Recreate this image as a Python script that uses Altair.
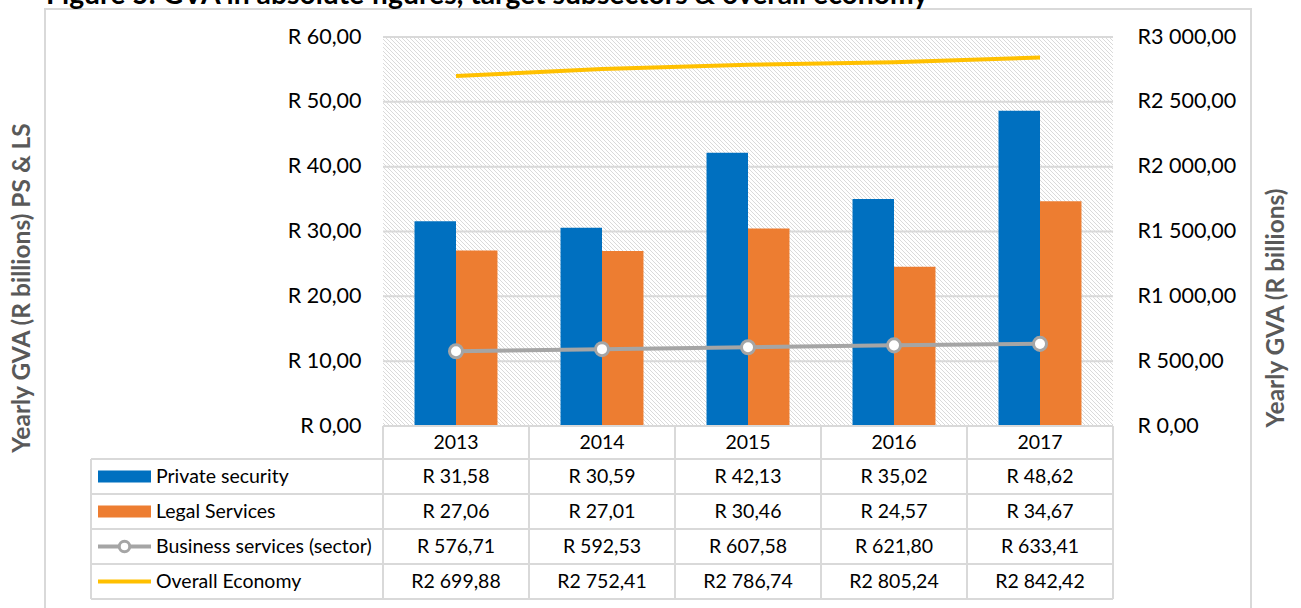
import altair as alt
import pandas as pd

# ---- data -------------------------------------------------------------
years = ["2013", "2014", "2015", "2016", "2017"]
private_security = [31.58, 30.59, 42.13, 35.02, 48.62]
legal_services = [27.06, 27.01, 30.46, 24.57, 34.67]
business_services = [576.71, 592.53, 607.58, 621.80, 633.41]
overall_economy = [2699.88, 2752.41, 2786.74, 2805.24, 2842.42]
series_names = ["Private security", "Legal Services",
                "Business services (sector)", "Overall Economy"]
left_ticks = [0, 10, 20, 30, 40, 50, 60]
right_ticks = [0, 500, 1000, 1500, 2000, 2500, 3000]
title_text = "Figure 5: GVA in absolute figures, target subsectors & overall economy"
left_title = "Yearly GVA (R billions) PS & LS"
right_title = "Yearly GVA (R billions)"

# ---- style ------------------------------------------------------------
BLUE, ORANGE, GREY, GOLD = "#0070C0", "#ED7D31", "#A5A5A5", "#FFC000"
RULE = "#D9D9D9"
FONT = "Lato"
FS = 19.5        # table text
AFS = 21.5       # axis labels
W, H = 730, 389          # plot area in pixels
PAD_L, PAD_T = 383, 37   # plot area offset inside the page


def rand(v):
    s = f"{v:,.2f}".replace(",", " ").replace(".", ",")
    return ("R" if v >= 1000 else "R ") + s


X = alt.X("year:N", scale=alt.Scale(domain=years, paddingInner=0, paddingOuter=0), axis=None)

# ---- frame + hatched plot background ---------------------------------
one = pd.DataFrame({"k": [0]})
frame = alt.Chart(one).mark_rect(fill="transparent", stroke=RULE, strokeWidth=2).encode(
    x=alt.value(45 - PAD_L), x2=alt.value(1251 - PAD_L),
    y=alt.value(9 - PAD_T), y2=alt.value(640 - PAD_T))

hatch_rows = []
for c in range(-W, H, 4):
    xa, xb = max(0, -c), min(W, H - c)
    hatch_rows.append({"hx": xa, "hy": xa + c, "hx2": xb, "hy2": xb + c})
hatch = alt.Chart(pd.DataFrame(hatch_rows)).mark_rule(color="#DADADA", strokeWidth=1).encode(
    x=alt.X("hx:Q", scale=None, axis=None), x2="hx2:Q",
    y=alt.Y("hy:Q", scale=None, axis=None), y2="hy2:Q")

grid = alt.Chart(pd.DataFrame({"v": left_ticks[1:]})).mark_rule(color=RULE, strokeWidth=2).encode(
    x=alt.value(0), x2=alt.value(W),
    y=alt.Y("v:Q", scale=alt.Scale(domain=[0, 60], nice=False), axis=None))

# ---- bars (left axis) -------------------------------------------------
bar_df = pd.DataFrame({
    "year": years * 2,
    "series": [series_names[0]] * 5 + [series_names[1]] * 5,
    "value": private_security + legal_services,
})
bars = alt.Chart(bar_df).mark_bar().encode(
    x=X,
    xOffset=alt.XOffset("series:N", scale=alt.Scale(domain=series_names[:2],
                                                     paddingInner=0, paddingOuter=0.76)),
    y=alt.Y("value:Q", scale=alt.Scale(domain=[0, 60], nice=False),
            axis=alt.Axis(orient="left", values=left_ticks, title=None, grid=False,
                          domain=False, ticks=False, labelPadding=22, zindex=2,
                          labelFont=FONT, labelFontSize=AFS, labelColor="#000000",
                          labelExpr="'R ' + replace(format(datum.value, '.2f'), '.', ',')")),
    color=alt.Color("series:N", scale=alt.Scale(domain=series_names[:2], range=[BLUE, ORANGE]),
                    legend=None),
)

# ---- lines (right axis) ----------------------------------------------
right_axis = alt.Axis(orient="right", values=right_ticks, title=None, grid=False,
                      domain=False, ticks=False, labelPadding=24, zindex=2,
                      labelFont=FONT, labelFontSize=AFS, labelColor="#000000",
                      labelExpr="(datum.value >= 1000 ? 'R' : 'R ') + "
                                "replace(replace(format(datum.value, ',.2f'), ',', ' '), '.', ',')")
RY = alt.Scale(domain=[0, 3000], nice=False)

econ_df = pd.DataFrame({"year": years, "value": overall_economy})
econ = alt.Chart(econ_df).mark_line(color=GOLD, strokeWidth=4).encode(
    x=X, y=alt.Y("value:Q", scale=RY, axis=right_axis))

bus_df = pd.DataFrame({"year": years, "value": business_services})
bus_line = alt.Chart(bus_df).mark_line(color=GREY, strokeWidth=4).encode(
    x=X, y=alt.Y("value:Q", scale=RY, axis=None))
bus_pts = alt.Chart(bus_df).mark_point(shape="circle", filled=True, fill="white",
                                       stroke=GREY, strokeWidth=3, size=170, opacity=1).encode(
    x=X, y=alt.Y("value:Q", scale=RY, axis=None))

# ---- data table under the plot ---------------------------------------
TOP = 426 - PAD_T
row_edges = [459 - PAD_T, 494 - PAD_T, 529 - PAD_T, 564 - PAD_T, 599 - PAD_T]
row_mid = [(a + b) / 2 for a, b in zip([TOP] + row_edges[:-1], row_edges)]
LEG_L = 91 - PAD_L

year_df = pd.DataFrame({"year": years})
layers_table = []
layers_table.append(alt.Chart(one).mark_rule(color=RULE, strokeWidth=2).encode(
    x=alt.value(0), x2=alt.value(W), y=alt.value(TOP)))
for e in row_edges:
    layers_table.append(alt.Chart(one).mark_rule(color=RULE, strokeWidth=2).encode(
        x=alt.value(LEG_L), x2=alt.value(W), y=alt.value(e)))
layers_table.append(alt.Chart(year_df).mark_rule(color=RULE, strokeWidth=2).encode(
    x=alt.X("year:N", scale=alt.Scale(domain=years, paddingInner=0, paddingOuter=0),
            axis=None, bandPosition=0),
    y=alt.value(TOP), y2=alt.value(row_edges[-1])))
layers_table.append(alt.Chart(one).mark_rule(color=RULE, strokeWidth=2).encode(
    x=alt.value(W), y=alt.value(TOP), y2=alt.value(row_edges[-1])))
layers_table.append(alt.Chart(one).mark_rule(color=RULE, strokeWidth=2).encode(
    x=alt.value(LEG_L), y=alt.value(row_edges[0]), y2=alt.value(row_edges[-1])))

txt = dict(font=FONT, fontSize=FS, color="#000000", baseline="middle", align="center")
layers_table.append(alt.Chart(year_df).mark_text(**txt).encode(
    x=X, y=alt.value(row_mid[0]), text="year:N"))
for i, vals in enumerate([private_security, legal_services, business_services, overall_economy]):
    df = pd.DataFrame({"year": years, "label": [rand(v) for v in vals]})
    layers_table.append(alt.Chart(df).mark_text(**txt).encode(
        x=X, y=alt.value(row_mid[i + 1]), text="label:N"))
    name_df = pd.DataFrame({"name": [series_names[i]]})
    layers_table.append(alt.Chart(name_df).mark_text(
        font=FONT, fontSize=FS, color="#000000", baseline="middle", align="left").encode(
        x=alt.value(156 - PAD_L), y=alt.value(row_mid[i + 1]), text="name:N"))

SX0, SX1 = 98 - PAD_L, 151 - PAD_L
layers_table.append(alt.Chart(one).mark_rect(color=BLUE).encode(
    x=alt.value(SX0), x2=alt.value(SX1), y=alt.value(row_mid[1] - 6), y2=alt.value(row_mid[1] + 6)))
layers_table.append(alt.Chart(one).mark_rect(color=ORANGE).encode(
    x=alt.value(SX0), x2=alt.value(SX1), y=alt.value(row_mid[2] - 6), y2=alt.value(row_mid[2] + 6)))
layers_table.append(alt.Chart(one).mark_rule(color=GREY, strokeWidth=4).encode(
    x=alt.value(SX0), x2=alt.value(SX1), y=alt.value(row_mid[3])))
layers_table.append(alt.Chart(one).mark_point(shape="circle", filled=True, fill="white",
                                              stroke=GREY, strokeWidth=3, size=110, opacity=1).encode(
    x=alt.value((SX0 + SX1) / 2), y=alt.value(row_mid[3])))
layers_table.append(alt.Chart(one).mark_rule(color=GOLD, strokeWidth=4).encode(
    x=alt.value(SX0), x2=alt.value(SX1), y=alt.value(row_mid[4])))

# ---- titles -----------------------------------------------------------
head = alt.Chart(one).mark_text(font=FONT, fontSize=28.3, fontWeight="bold", color="#000000",
                                align="left", baseline="alphabetic").encode(
    x=alt.value(46 - PAD_L), y=alt.value(4 - PAD_T), text=alt.value(title_text))
ltitle = alt.Chart(one).mark_text(font=FONT, fontSize=24.5, fontWeight="bold", color="#595959",
                                  align="center", baseline="middle", angle=270).encode(
    x=alt.value(23 - PAD_L), y=alt.value(288 - PAD_T), text=alt.value(left_title))
rtitle = alt.Chart(one).mark_text(font=FONT, fontSize=24.5, fontWeight="bold", color="#595959",
                                  align="center", baseline="middle", angle=270).encode(
    x=alt.value(1277 - PAD_L), y=alt.value(308 - PAD_T), text=alt.value(right_title))

chart = alt.layer(
    frame, hatch, grid, bars, econ, bus_line, bus_pts, *layers_table, head, ltitle, rtitle
).resolve_scale(y="independent").properties(
    width=W, height=H,
    autosize=alt.AutoSizeParams(type="none"),
    padding={"left": PAD_L, "top": PAD_T, "right": 1301 - PAD_L - W, "bottom": 608 - PAD_T - H},
).configure_view(stroke=None)

chart.save("out.html", embed_options={"renderer": "svg", "actions": False})
